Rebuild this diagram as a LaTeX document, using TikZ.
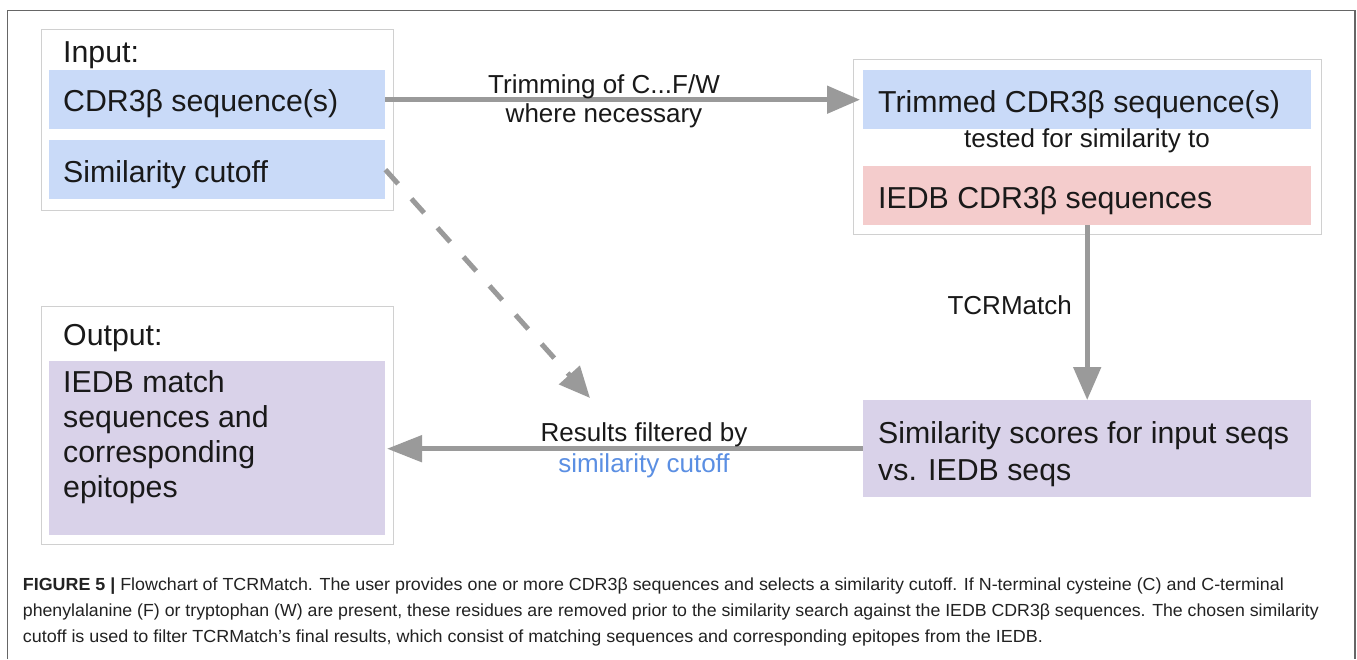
\documentclass[tikz,border=0pt]{standalone}
\usepackage{fontspec}
\setmainfont{Liberation Sans}
\usepackage{graphicx}
\usetikzlibrary{arrows.meta}
\definecolor{blueF}{HTML}{C9DAF8}
\definecolor{redF}{HTML}{F4CCCC}
\definecolor{purpF}{HTML}{D9D2E9}
\definecolor{arrowG}{HTML}{9A9A9A}
\definecolor{boxB}{HTML}{D0D0D0}
\definecolor{frameG}{HTML}{666666}
\definecolor{linkB}{HTML}{5B8FE3}
\definecolor{capT}{HTML}{222222}
\begin{document}
\begin{tikzpicture}[x=1pt,y=-1pt,
  group/.style={draw=boxB, line width=1.3pt, fill=white, inner sep=0pt, anchor=north west},
  fillbox/.style={fill=#1, draw=none, inner sep=0pt, anchor=north west},
  bigtxt/.style={font=\fontsize{30.3}{36}\selectfont, inner sep=0pt, anchor=base west, text=black!90},
  lbl/.style={font=\fontsize{26}{31}\selectfont, inner sep=0pt, anchor=base, text=black!90},
  captxt/.style={font=\fontsize{17.5}{20}\selectfont, inner sep=0pt, anchor=base west, text=capT},
  arr/.style={draw=arrowG, line width=5pt, -{Triangle[length=33pt,width=27pt]}},
]
\useasboundingbox (0,0) rectangle (1357,659);
\fill[white] (0,0) rectangle (1357,659);
% outer frame
\draw[frameG, line width=1.3pt] (7.5,659) -- (7.5,10.5) -- (1355,10.5) -- (1355,659);

% Input group
\node[group, minimum width=352pt, minimum height=181pt] (inbox) at (40.5,29) {};
\node[fillbox=blueF, minimum width=336pt, minimum height=59pt] (cdr) at (49,70) {};
\node[fillbox=blueF, minimum width=336pt, minimum height=59pt] (sim) at (49,140) {};
\node[bigtxt] (tin) at (63,62) {Input:};
\node[bigtxt] (tcdr) at (63,111.5) {CDR3β sequence(s)};
\node[bigtxt] (tsim) at (63,182.5) {Similarity cutoff};

% Trimmed group
\node[group, minimum width=468pt, minimum height=175pt] (trimbox) at (853,59) {};
\node[fillbox=blueF, minimum width=448pt, minimum height=59pt] (trim) at (863,70) {};
\node[fillbox=redF, minimum width=448pt, minimum height=59pt] (iedb) at (863,166) {};
\node[bigtxt] (ttrim) at (878,112.5) {Trimmed CDR3β sequence(s)};
\node[lbl] (ttest) at (1087,147) {tested for similarity to};
\node[bigtxt] (tiedb) at (878,208.5) {IEDB CDR3β sequences};

% Scores
\node[fillbox=purpF, minimum width=448pt, minimum height=97pt] (scores) at (863,400) {};
\node[bigtxt] (ts1) at (878,443) {Similarity scores for input seqs};
\node[bigtxt] (ts2) at (878,480) {vs. IEDB seqs};

% Output group
\node[group, minimum width=352pt, minimum height=238pt] (outbox) at (40.5,306) {};
\node[fillbox=purpF, minimum width=336pt, minimum height=174pt] (outres) at (49,361) {};
\node[bigtxt] (tout) at (63,345) {Output:};
\node[bigtxt] (to1) at (63,392) {IEDB match};
\node[bigtxt] (to2) at (63,427.5) {sequences and};
\node[bigtxt] (to3) at (63,462.5) {corresponding};
\node[bigtxt] (to4) at (63,497.5) {epitopes};

% connectors
\coordinate (t1tip) at (860,0);
\draw[arr] (cdr.east) -- (t1tip |- cdr.east);
\node[lbl] (l1a) at (604,93) {Trimming of C...F/W};
\node[lbl] (l1b) at (604,122) {where necessary};

\draw[arr] (iedb.south) -- (scores.north);
\node[lbl, anchor=base east] (l2) at (1072,314) {TCRMatch};

\coordinate (t3tip) at (387,0);
\draw[arr, -{Triangle[length=35pt,width=26pt]}] (scores.west) -- (t3tip |- scores.west);
\node[lbl] (l3a) at (644,441) {Results filtered by};
\node[lbl, text=linkB] (l3b) at (644,472) {similarity cutoff};

\coordinate (dtip) at (590,398);
\draw[arr, -{Triangle[length=31pt,width=27pt]}, dash pattern=on 19pt off 20pt] (sim.east) -- (dtip);

% caption
\node[captxt] (c1) at (22.7,590) {\resizebox{1261pt}{\height}{\textbf{FIGURE 5 |} Flowchart of TCRMatch. The user provides one or more CDR3β sequences and selects a similarity cutoff. If N-terminal cysteine (C) and C-terminal}};
\node[captxt] (c2) at (22.7,616.5) {\resizebox{1296pt}{\height}{phenylalanine (F) or tryptophan (W) are present, these residues are removed prior to the similarity search against the IEDB CDR3β sequences. The chosen similarity}};
\node[captxt] (c3) at (22.7,642) {\resizebox{1020pt}{\height}{cutoff is used to filter TCRMatch’s final results, which consist of matching sequences and corresponding epitopes from the IEDB.}};
\end{tikzpicture}
\end{document}
